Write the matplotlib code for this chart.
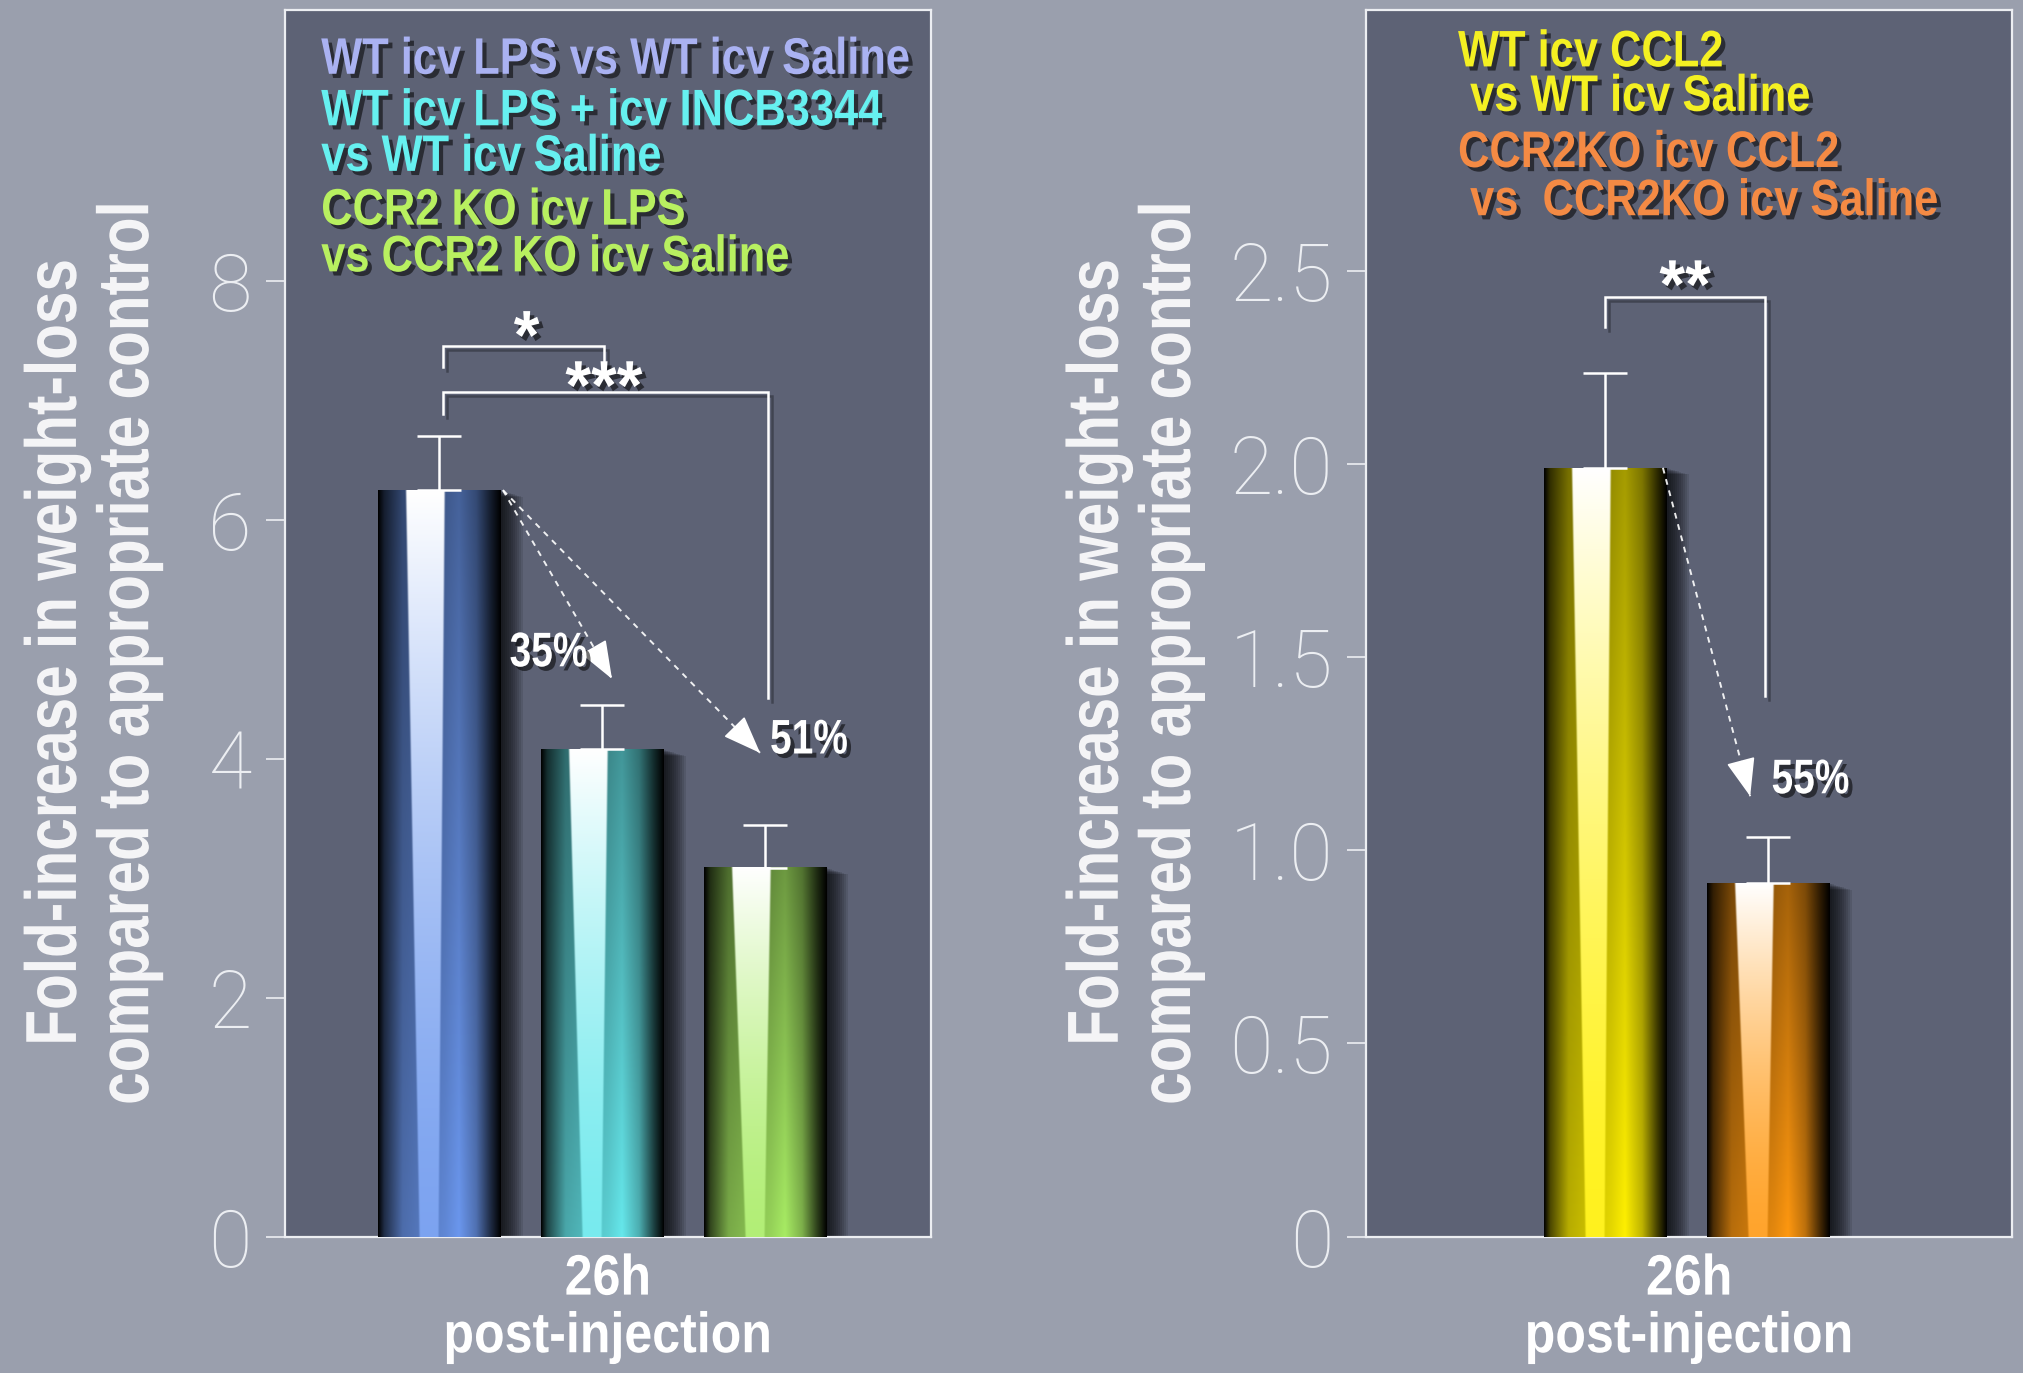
import numpy as np
import matplotlib
matplotlib.use('Agg')
import matplotlib.pyplot as plt
import matplotlib.colors as mcolors
import matplotlib.patheffects as pe
import matplotlib.transforms as mtransforms
from matplotlib import font_manager
from matplotlib.patches import Rectangle

# Fold-increase in weight loss, 26h after icv injection
lps_groups = ['WT icv LPS', 'WT icv LPS + icv INCB3344', 'CCR2 KO icv LPS']
lps_fold = [6.25, 4.08, 3.09]
lps_sem = [0.45, 0.37, 0.36]
lps_colors = ['#6b97ee', '#66e8ec', '#a8ec64']

ccl2_groups = ['WT icv CCL2', 'CCR2 KO icv CCL2']
ccl2_fold = [1.99, 0.915]
ccl2_sem = [0.245, 0.12]
ccl2_colors = ['#fff000', '#ff9810']

lps_ticks = [0, 2, 4, 6, 8]
lps_ticklabels = ['0', '2', '4', '6', '8']
ccl2_ticks = [0, 0.5, 1.0, 1.5, 2.0, 2.5]
ccl2_ticklabels = ['0', '0.5', '1.0', '1.5', '2.0', '2.5']

lps_legend = ['WT icv LPS vs WT icv Saline',
              'WT icv LPS + icv INCB3344\nvs WT icv Saline',
              'CCR2 KO icv LPS\nvs CCR2 KO icv Saline']
lps_legend_colors = ['#aab2f2', '#66f0f0', '#b8f060']
ccl2_legend = ['WT icv CCL2\n vs WT icv Saline',
               'CCR2KO icv CCL2\n vs  CCR2KO icv Saline']
ccl2_legend_colors = ['#f4f022', '#f48a44']

ylabel = 'Fold-increase in weight-loss\ncompared to appropriate control'

BG = '#9a9fad'
PANEL = '#5d6275'
FG = '#eceef2'

names = {f.name for f in font_manager.fontManager.ttflist}
NARROW = 'Liberation Sans Narrow' if 'Liberation Sans Narrow' in names else 'Liberation Sans'
LIGHT = 'Roboto' if 'Roboto' in names else 'DejaVu Sans'


class Squeeze(pe.AbstractPathEffect):
    """Narrow each text line along its baseline, with a drop shadow."""

    def __init__(self, sx, where='left', shadow=True):
        super().__init__()
        self.sx = sx
        self.where = where
        self.inner = [pe.Normal()]
        if shadow:
            self.inner.insert(0, pe.SimplePatchShadow(offset=(3, -3), shadow_rgbFace='black',
                                                      alpha=0.55))

    def draw_path(self, renderer, gc, tpath, affine, rgbFace=None):
        cx = 0
        if self.where == 'center':
            ext = tpath.get_extents()
            cx = (ext.x0 + ext.x1) / 2
        sq = mtransforms.Affine2D().translate(-cx, 0).scale(self.sx, 1).translate(cx, 0)
        for eff in self.inner:
            eff.draw_path(renderer, gc, tpath, sq + affine, rgbFace)


line_shadow = [pe.SimpleLineShadow(offset=(3, -3), shadow_color='black', alpha=0.3), pe.Normal()]


def cylinder_image(color, n=300):
    rgb = np.array(mcolors.to_rgb(color))
    u = np.linspace(0, 1, n)[None, :]
    v = np.linspace(0, 1, n)[:, None]          # 0 = bottom, 1 = top
    shade = np.interp(u, [0, 0.05, 0.2, 0.55, 0.66, 0.8, 0.92, 1],
                      [0.0, 0.3, 0.72, 0.9, 1.0, 0.75, 0.28, 0.0])
    dim = 1 - 0.35 * v
    body = rgb * (shade * dim)[:, :, None]
    # glossy strip, wide and white at the top, narrow and tinted at the bottom
    left = 0.33 - 0.11 * v
    right = 0.50 + 0.05 * v
    band = (np.clip((u - left) / 0.015, 0, 1) * np.clip((right - u) / 0.015, 0, 1))[:, :, None]
    s = (0.12 + 0.88 * v ** 1.5)[:, :, None]
    gloss = rgb * (1 - s) + s
    return np.clip(body * (1 - band) + gloss * band, 0, 1)


def draw_bars(ax, values, errs, colors):
    x = np.arange(len(values))
    bars = ax.bar(x, values, width=0.755, color='none', edgecolor='none', zorder=3)
    for rect, c in zip(bars, colors):
        x0, w, h = rect.get_x(), rect.get_width(), rect.get_height()
        # soft drop shadow
        for d in range(2, 24, 2):
            tr = mtransforms.offset_copy(ax.transData, fig=ax.figure, x=d, y=-d * 0.3, units='dots')
            ax.add_patch(Rectangle((x0, 0), w, h, transform=tr, color='black',
                                   alpha=0.1, lw=0, zorder=2))
        ax.imshow(cylinder_image(c), extent=[x0, x0 + w, 0, h], origin='lower',
                  aspect='auto', interpolation='bilinear', zorder=3)
    ax.errorbar(x, values, yerr=[np.zeros(len(values)), errs], fmt='none',
                ecolor='white', elinewidth=1.8, capsize=16, capthick=1.8, zorder=4)
    return x


def bracket(ax, x0, x1, y, y_left, y_right, stars, sx, sy):
    ax.plot([x0, x0, x1, x1], [y_left, y, y, y_right], color='white', lw=1.8,
            zorder=5, solid_joinstyle='miter', path_effects=line_shadow)
    ax.text(sx, sy, stars, color='white', fontsize=50, fontweight='bold',
            family=NARROW, ha='center', va='center', zorder=6,
            path_effects=[Squeeze(0.95, 'center')])


def dotted_arrow(ax, start, tip, label, lx, ly):
    (x0, y0), (x1, y1) = start, tip
    ax.plot([x0, x1], [y0, y1], color='white', lw=1.4, linestyle=(0, (3, 3)),
            zorder=5, alpha=0.9)
    back = (x1 - 0.03 * (x1 - x0), y1 - 0.03 * (y1 - y0))
    ax.annotate('', xy=tip, xytext=back,
                arrowprops=dict(arrowstyle='-|>,head_length=1.1,head_width=0.42',
                                color='white', lw=1.2, shrinkA=0, shrinkB=0,
                                mutation_scale=22), zorder=5)
    ax.text(lx, ly, label, color='white', fontsize=35, fontweight='bold', family=NARROW,
            ha='center', va='center', zorder=6, path_effects=[Squeeze(0.8, 'center')])


def style_axes(ax, ticks, ticklabels, xlim, ylim):
    ax.set_facecolor(PANEL)
    for s in ax.spines.values():
        s.set_color(FG)
        s.set_linewidth(1.6)
    ax.set_xlim(*xlim)
    ax.set_ylim(*ylim)
    ax.set_xticks([])
    ax.set_yticks(ticks, ticklabels, family=LIGHT, fontweight='light')
    ax.tick_params(axis='y', colors=FG, labelsize=57, length=14, width=1.2, pad=10)
    for txt, y in (('26h', -0.035), ('post-injection', -0.082)):
        ax.text(0.5, y, txt, transform=ax.transAxes, color='white', fontsize=41,
                fontweight='bold', family=NARROW, ha='center', va='center',
                path_effects=[Squeeze(0.88, 'center', shadow=False)])


def legend_block(ax, x, y, text, color, spacing):
    ax.text(x, y, text, transform=ax.transAxes, color=color, fontsize=37,
            fontweight='bold', family=NARROW, ha='left', va='top',
            linespacing=spacing, zorder=6, path_effects=[Squeeze(0.845, 'left')])


fig = plt.figure(figsize=(20.23, 13.73), dpi=100, facecolor=BG)
ax1 = fig.add_axes([0.1409, 0.0993, 0.3193, 0.8934])
ax2 = fig.add_axes([0.6754, 0.0993, 0.3193, 0.8934])

# Left panel: LPS
draw_bars(ax1, lps_fold, lps_sem, lps_colors)
style_axes(ax1, lps_ticks, lps_ticklabels, (-0.949, 3.02), (0, 10.27))
bracket(ax1, 0.02, 1.01, 7.46, 7.28, 7.32, '*', 0.535, 7.5)
bracket(ax1, 0.02, 2.02, 7.07, 6.89, 4.51, '***', 1.01, 7.08)
dotted_arrow(ax1, (0.39, lps_fold[0]), (1.06, 4.67), '35%', 0.67, 4.88)
dotted_arrow(ax1, (0.39, lps_fold[0]), (1.97, 4.05), '51%', 2.27, 4.15)
for text, color, y, sp in zip(lps_legend, lps_legend_colors,
                              [0.979, 0.937, 0.856], [0.9, 0.91, 0.94]):
    legend_block(ax1, 0.056, y, text, color, sp)

# Right panel: CCL2
draw_bars(ax2, ccl2_fold, ccl2_sem, ccl2_colors)
style_axes(ax2, ccl2_ticks, ccl2_ticklabels, (-1.468, 2.50), (0, 3.175))
bracket(ax2, 0.0, 0.98, 2.433, 2.355, 1.40, '**', 0.49, 2.45)
dotted_arrow(ax2, (0.354, ccl2_fold[0]), (0.89, 1.14), '55%', 1.26, 1.18)
for text, color, y, sp in zip(ccl2_legend, ccl2_legend_colors,
                              [0.985, 0.903], [0.88, 0.98]):
    legend_block(ax2, 0.142, y, text, color, sp)

for xpos in (0.046, 0.561):
    fig.text(xpos, 0.525, ylabel, rotation=90, color='#f4f4f6', fontsize=52,
             fontweight='bold', family=NARROW, ha='center', va='center',
             multialignment='center', linespacing=1.08,
             path_effects=[Squeeze(0.81, 'center', shadow=False)])

fig.savefig('out.png', dpi=100, facecolor=BG)
